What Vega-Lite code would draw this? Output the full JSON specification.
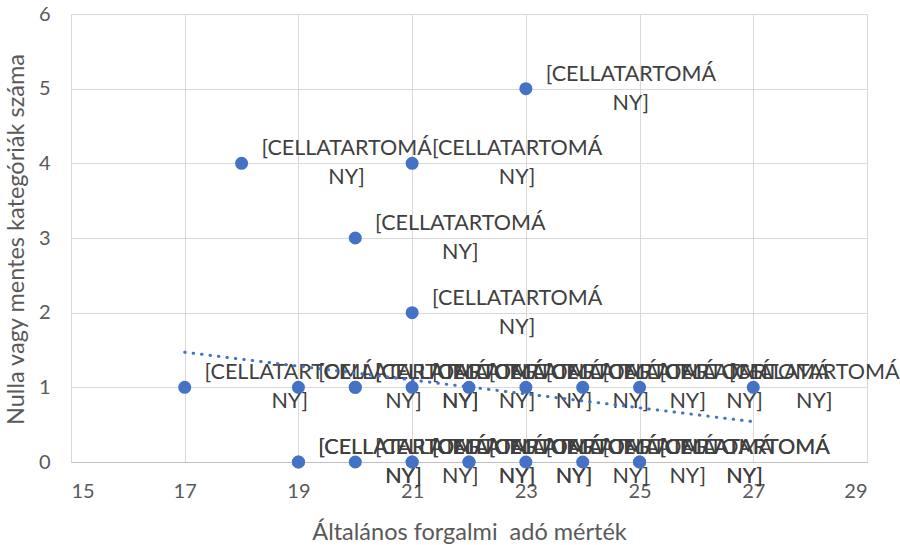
{
  "$schema": "https://vega.github.io/schema/vega-lite/v6.json",
  "width": 796,
  "height": 448,
  "autosize": {"type": "none"},
  "padding": {"left": 71, "top": 14, "right": 33, "bottom": 83},
  "background": "white",
  "config": {
    "view": {"stroke": null},
    "font": "Lato"
  },
  "datasets": {
    "pts": [
      {"afa": 17, "n": 1, "label": "[CELLATARTOMÁ\nNY]"},
      {"afa": 19, "n": 1, "label": "[CELLATARTOMÁ\nNY]"},
      {"afa": 20, "n": 1, "label": "[CELLATARTOMÁ\nNY]"},
      {"afa": 20, "n": 1, "label": "[CELLATARTOMÁ\nNY]"},
      {"afa": 21, "n": 1, "label": "[CELLATARTOMÁ\nNY]"},
      {"afa": 22, "n": 1, "label": "[CELLATARTOMÁ\nNY]"},
      {"afa": 23, "n": 1, "label": "[CELLATARTOMÁ\nNY]"},
      {"afa": 24, "n": 1, "label": "[CELLATARTOMÁ\nNY]"},
      {"afa": 25, "n": 1, "label": "[CELLATARTOMÁ\nNY]"},
      {"afa": 27, "n": 1, "label": "[CELLATARTOMÁ\nNY]"},
      {"afa": 19, "n": 0, "label": "[CELLATARTOMÁ\nNY]"},
      {"afa": 19, "n": 0, "label": "[CELLATARTOMÁ\nNY]"},
      {"afa": 20, "n": 0, "label": "[CELLATARTOMÁ\nNY]"},
      {"afa": 21, "n": 0, "label": "[CELLATARTOMÁ\nNY]"},
      {"afa": 21, "n": 0, "label": "[CELLATARTOMÁ\nNY]"},
      {"afa": 22, "n": 0, "label": "[CELLATARTOMÁ\nNY]"},
      {"afa": 22, "n": 0, "label": "[CELLATARTOMÁ\nNY]"},
      {"afa": 23, "n": 0, "label": "[CELLATARTOMÁ\nNY]"},
      {"afa": 24, "n": 0, "label": "[CELLATARTOMÁ\nNY]"},
      {"afa": 25, "n": 0, "label": "[CELLATARTOMÁ\nNY]"},
      {"afa": 25, "n": 0, "label": "[CELLATARTOMÁ\nNY]"},
      {"afa": 18, "n": 4, "label": "[CELLATARTOMÁ\nNY]"},
      {"afa": 21, "n": 4, "label": "[CELLATARTOMÁ\nNY]"},
      {"afa": 23, "n": 5, "label": "[CELLATARTOMÁ\nNY]"},
      {"afa": 20, "n": 3, "label": "[CELLATARTOMÁ\nNY]"},
      {"afa": 21, "n": 2, "label": "[CELLATARTOMÁ\nNY]"}
    ],
    "trend": [
      {"afa": 17, "n": 1.47},
      {"afa": 27, "n": 0.54}
    ]
  },
  "layer": [
    {
      "data": {"name": "pts"},
      "transform": [{"filter": "datum.afa < 27"}],
      "mark": {"type": "text", "align": "center", "baseline": "middle", "dx": 105, "dy": -14, "lineBreak": "\n", "lineHeight": 29, "font": "Lato", "fontSize": 21.5, "color": "#404040"},
      "encoding": {
        "x": {
          "field": "afa", "type": "quantitative",
          "scale": {"domain": [15, 29], "nice": false, "zero": false},
          "axis": {
            "title": "Általános forgalmi\u00a0 adó mérték",
            "values": [15, 17, 19, 21, 23, 25, 27, 29],
            "format": "d",
            "grid": true, "gridColor": "#d9d9d9", "gridWidth": 1,
            "domain": true, "domainColor": "#bfbfbf", "domainWidth": 1,
            "ticks": false,
            "labelPadding": 19, "labelFont": "Lato", "labelFontSize": 20, "labelColor": "#595959",
            "titleFont": "Lato", "titleFontSize": 23.5, "titleFontWeight": "normal", "titleColor": "#595959",
            "titleY": 70, "titleBaseline": "middle"
          }
        },
        "y": {
          "field": "n", "type": "quantitative",
          "scale": {"domain": [0, 6], "nice": false},
          "axis": {
            "title": "Nulla vagy mentes kategóriák száma",
            "values": [0, 1, 2, 3, 4, 5, 6],
            "format": "d",
            "grid": true, "gridColor": "#d9d9d9", "gridWidth": 1,
            "domain": false, "ticks": false,
            "labelPadding": 21, "labelFont": "Lato", "labelFontSize": 20, "labelColor": "#595959",
            "titleFont": "Lato", "titleFontSize": 23.5, "titleFontWeight": "normal", "titleColor": "#595959",
            "titleX": -55, "titleY": 225, "titleBaseline": "middle"
          }
        },
        "text": {"field": "label", "type": "nominal"}
      }
    },
    {
      "data": {"name": "pts"},
      "transform": [{"filter": "datum.afa >= 27"}],
      "mark": {"type": "text", "align": "center", "baseline": "middle", "dx": 61, "dy": -14, "lineBreak": "\n", "lineHeight": 29, "font": "Lato", "fontSize": 21.5, "color": "#404040"},
      "encoding": {
        "x": {"field": "afa", "type": "quantitative"},
        "y": {"field": "n", "type": "quantitative"},
        "text": {"field": "label", "type": "nominal"}
      }
    },
    {
      "data": {"name": "trend"},
      "mark": {"type": "line", "color": "#4472C4", "strokeWidth": 3, "strokeDash": [0.5, 8], "strokeCap": "round"},
      "encoding": {
        "x": {"field": "afa", "type": "quantitative"},
        "y": {"field": "n", "type": "quantitative"}
      }
    },
    {
      "data": {"name": "pts"},
      "mark": {"type": "circle", "size": 170, "color": "#4472C4", "opacity": 1},
      "encoding": {
        "x": {"field": "afa", "type": "quantitative"},
        "y": {"field": "n", "type": "quantitative"}
      }
    }
  ]
}
